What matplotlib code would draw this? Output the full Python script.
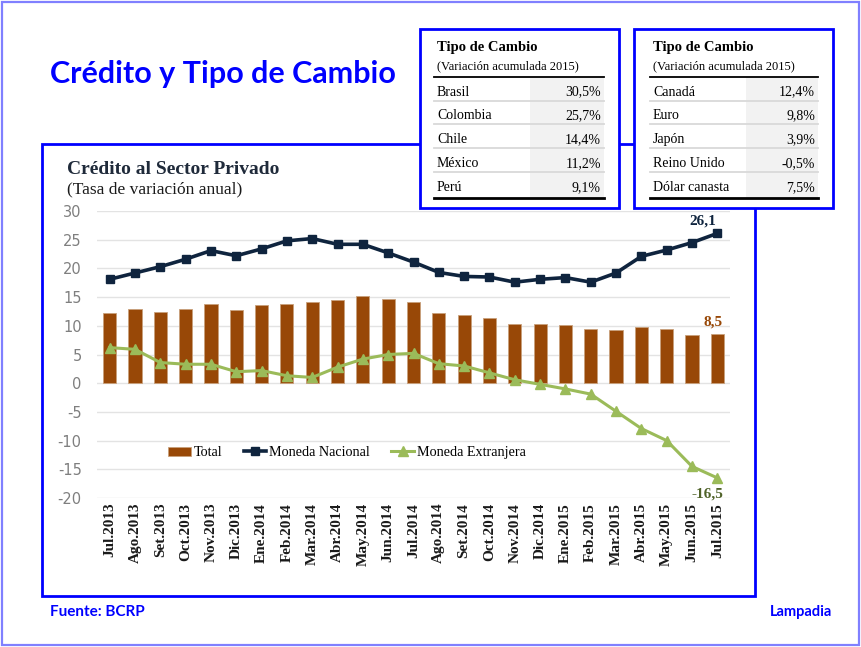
import numpy as np
import matplotlib.pyplot as plt
from matplotlib.patches import Rectangle

plt.rcParams['axes.unicode_minus'] = False

# Data
meses = ['Jul.2013', 'Ago.2013', 'Set.2013', 'Oct.2013', 'Nov.2013', 'Dic.2013',
         'Ene.2014', 'Feb.2014', 'Mar.2014', 'Abr.2014', 'May.2014', 'Jun.2014',
         'Jul.2014', 'Ago.2014', 'Set.2014', 'Oct.2014', 'Nov.2014', 'Dic.2014',
         'Ene.2015', 'Feb.2015', 'Mar.2015', 'Abr.2015', 'May.2015', 'Jun.2015',
         'Jul.2015']
total = [12.3, 12.9, 12.4, 13.0, 13.8, 12.7, 13.6, 13.8, 14.1, 14.5, 15.2, 14.7,
         14.1, 12.3, 11.8, 11.3, 10.3, 10.4, 10.2, 9.4, 9.3, 9.8, 9.5, 8.4, 8.5]
moneda_nacional = [18.1, 19.2, 20.3, 21.6, 23.1, 22.2, 23.4, 24.8, 25.2, 24.2, 24.2, 22.7,
                   21.1, 19.3, 18.6, 18.5, 17.6, 18.1, 18.4, 17.6, 19.2, 22.1, 23.2, 24.5, 26.1]
moneda_extranjera = [6.2, 5.9, 3.6, 3.3, 3.3, 2.0, 2.2, 1.3, 1.0, 2.8, 4.2, 5.0,
                     5.2, 3.4, 3.0, 1.8, 0.6, -0.2, -1.0, -1.9, -4.9, -7.9, -10.0, -14.5, -16.5]

paises = ['Brasil', 'Colombia', 'Chile', 'México', 'Perú']
var_paises = ['30,5%', '25,7%', '14,4%', '11,2%', '9,1%']
monedas = ['Canadá', 'Euro', 'Japón', 'Reino Unido', 'Dólar canasta']
var_monedas = ['12,4%', '9,8%', '3,9%', '-0,5%', '7,5%']

# Colours
brown = '#984807'
navy = '#0F243E'
green = '#9BBB59'
blue = '#0000FF'
serif = 'Liberation Serif'

W, H = 861, 647
fig = plt.figure(figsize=(W / 100, H / 100), dpi=100)

# Main chart axes
ax = fig.add_axes([97 / W, 1 - 498 / H, 633 / W, 287 / H])
x = np.arange(len(meses))
bars = ax.bar(x, total, width=0.52, color=brown, edgecolor='#C8A07C', linewidth=0.6,
              label='Total', zorder=2)
l_mn, = ax.plot(x, moneda_nacional, color=navy, lw=2.6, marker='s', ms=5.5,
                label='Moneda Nacional', zorder=3)
l_me, = ax.plot(x, moneda_extranjera, color=green, lw=2.2, marker='^', ms=7,
                label='Moneda Extranjera', zorder=3)

ax.set_xlim(-0.5, len(meses) - 0.5)
ax.set_ylim(-20, 30)
ax.set_yticks(range(-20, 31, 5))
ax.grid(axis='y', color='#E3E3E3', lw=1, zorder=0)
ax.set_axisbelow(True)
for s in ax.spines.values():
    s.set_visible(False)
ax.tick_params(length=0)
ax.tick_params(axis='y', labelsize=10.5, labelcolor='#7F7F7F', pad=11)
ax.set_xticks(x)
ax.set_xticklabels(meses, rotation=90, fontsize=11, fontweight='bold',
                   family=serif, color='#1A1A1A')

# End-point labels
ax.annotate('26,1', (x[-1], moneda_nacional[-1]), xytext=(-1, 4), textcoords='offset points',
            ha='right', va='bottom', fontsize=11, fontweight='bold', color=navy, family=serif)
ax.annotate('8,5', (x[-1], total[-1]), xytext=(4, 4), textcoords='offset points',
            ha='right', va='bottom', fontsize=11, fontweight='bold', color=brown, family=serif)
ax.annotate('-16,5', (x[-1], moneda_extranjera[-1]), xytext=(4, -7), textcoords='offset points',
            ha='right', va='top', fontsize=11, fontweight='bold', color='#4F6228', family=serif)

ax.legend([bars, l_mn, l_me], ['Total', 'Moneda Nacional', 'Moneda Extranjera'],
          loc='center', bbox_to_anchor=(0.395, 0.157), ncol=3, frameon=False,
          prop={'family': serif, 'size': 10.2}, handlelength=1.6, handletextpad=0.2,
          columnspacing=1.5)

# Overlay in pixel coordinates for frames, titles and tables
ov = fig.add_axes([0, 0, 1, 1], zorder=5)
ov.set_xlim(0, W)
ov.set_ylim(H, 0)
ov.axis('off')
ov.patch.set_alpha(0)

ov.add_patch(Rectangle((1.5, 1.5), W - 4, H - 4, fill=False, ec='#8080FF', lw=1.6))
ov.add_patch(Rectangle((42, 144), 713, 452, fill=False, ec=blue, lw=2))

ov.text(50, 74, 'Crédito y Tipo de Cambio', color=blue, fontsize=22, fontweight='bold',
        family='Lato', va='center', ha='left')
ov.text(67, 170, 'Crédito al Sector Privado', color='#1F2A3A', fontsize=14,
        fontweight='bold', family=serif, va='center')
ov.text(67, 189, '(Tasa de variación anual)', color='#1A1A1A', fontsize=12.5,
        family=serif, va='center')
ov.text(50, 612, 'Fuente: BCRP', color=blue, fontsize=11, fontweight='bold',
        family='Lato', va='center')
ov.text(832, 612, 'Lampadia', color=blue, fontsize=10.5, fontweight='bold',
        family='Lato', va='center', ha='right')


def draw_table(x0, x1, lx0, lx1, gx0, names, values):
    ov.add_patch(Rectangle((x0, 29), x1 - x0, 179, fc='white', ec=blue, lw=2, zorder=4))
    ov.add_patch(Rectangle((gx0, 77), lx1 - gx0, 121, fc='#F2F2F2', ec='none', zorder=4))
    ov.text(lx0 + 3, 48, 'Tipo de Cambio', fontsize=10.5, fontweight='bold',
            family=serif, va='center', zorder=5)
    ov.text(lx0 + 3, 66, '(Variación acumulada 2015)', fontsize=9,
            family=serif, va='center', zorder=5)
    ov.plot([lx0, lx1], [76.5, 76.5], color='black', lw=1.3, zorder=5)
    for yl in [100.7, 124.3, 148.3, 171.7]:
        ov.plot([lx0, lx1], [yl, yl], color='#D9D9D9', lw=1.3, zorder=5)
    ov.plot([lx0, lx1], [198.3, 198.3], color='black', lw=2, zorder=5)
    for i, (n, v) in enumerate(zip(names, values)):
        yy = 92 + i * 23.8
        ov.text(lx0 + 3, yy, n, fontsize=10, family=serif, va='center', zorder=5)
        ov.text(lx1 - 3, yy, v, fontsize=10, family=serif, va='center', ha='right', zorder=5)


draw_table(420, 619, 434, 604, 530, paises, var_paises)
draw_table(634, 833, 650, 818, 746, monedas, var_monedas)

fig.savefig('out.png', dpi=100)
